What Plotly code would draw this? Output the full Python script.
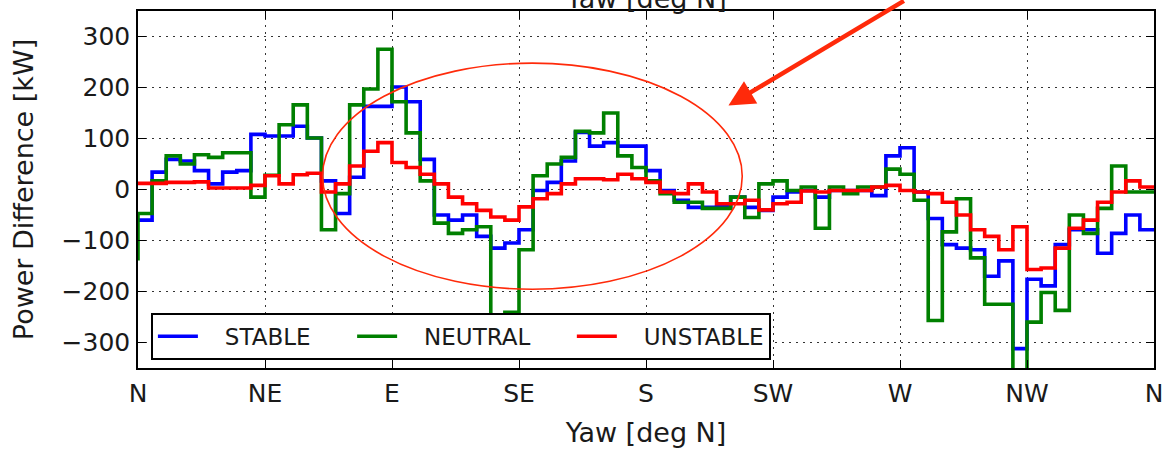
import numpy as np
import plotly.graph_objects as go

# Yaw bin edges: 5-degree bins from N (0) round to N (360)
bin_width = 5
yaw_edges = np.arange(0, 360 + bin_width, bin_width)

# Power difference per bin [kW]; first entry is the value at the 0-degree edge
stable = [
    -60,
    -60, 34, 59, 56, 37, 11, 34, 37, 108,
    105, 105, 124, 101, 17, -47, 24, 163, 163,
    201, 172, 59, -50, -60, -50, -92, -115, -105,
    -79, -2, 14, 56, 112, 85, 92, 85, 85,
    37, -2, -21, -35, -35, -34, -15, -35, -41,
    -15, -5, -2, -15, -2, -2, -2, -12, 66,
    82, -5, -57, -108, -115, -118, -170, -140, -312,
    -176, -189, -108, -79, -79, -125, -86, -50, -79,
]
neutral = [
    -139,
    -47, 17, 66, 50, 68, 63, 72, 72, -15,
    28, 127, 166, 101, -79, -8, 166, 197, 275,
    172, 111, 17, -66, -86, -79, -73, -300, -241,
    -118, 27, 50, 63, 114, 111, 150, 66, 43,
    17, -8, -25, -25, -37, -37, -15, -55, 11,
    17, -2, 5, -76, 5, -8, 5, 5, 40,
    30, -21, -257, -83, -18, -134, -225, -225, -400,
    -260, -202, -237, -50, -86, -37, 46, -5, -5,
]
unstable = [
    12,
    12, 12, 14, 14, 15, 3, 3, 3, 8,
    27, 11, 29, 32, -5, 11, 46, 75, 92,
    53, 43, 30, 11, -15, -28, -41, -54, -60,
    -34, -18, -8, 11, 21, 21, 19, 30, 21,
    14, -5, -8, 11, -5, -28, -28, -21, -40,
    -28, -25, -3, -5, -2, -2, -2, 5, 8,
    -2, -5, -8, -25, -50, -79, -92, -118, -73,
    -157, -154, -115, -76, -60, -25, -5, 17, 5,
]

series_names = ["STABLE", "NEUTRAL", "UNSTABLE"]
series_colors = ["#0000ff", "#008000", "#ff0000"]

x_tick_vals = [0, 45, 90, 135, 180, 225, 270, 315, 360]
x_tick_text = ["N", "NE", "E", "SE", "S", "SW", "W", "NW", "N"]
y_tick_vals = [-300, -200, -100, 0, 100, 200, 300]
y_tick_text = ["\u2212300", "\u2212200", "\u2212100", "0", "100", "200", "300"]

FONT = "DejaVu Sans"
TEXT = "#1a1a1a"
lead = "\u00a0" * 3  # space between legend line and its label
gap = "\u00a0" * 5   # column spacing between legend entries

fig = go.Figure()
for i, (name, vals, col) in enumerate(zip(series_names, [stable, neutral, unstable], series_colors)):
    label = lead + name + (gap if i < len(series_names) - 1 else "")
    fig.add_trace(go.Scatter(
        x=yaw_edges, y=vals, mode="lines", name=label,
        line=dict(color=col, width=3.6, shape="vh"),
    ))

axis_common = dict(
    showline=True, linecolor="black", linewidth=1.5, mirror="ticks",
    ticks="inside", ticklen=8, tickwidth=1.2, tickcolor="black",
    showgrid=True, gridcolor="#333333", gridwidth=1, griddash="2px,5px",
    zeroline=False, tickfont=dict(family=FONT, size=25, color=TEXT),
)

fig.update_xaxes(
    range=[0, 360], tickvals=x_tick_vals, ticktext=x_tick_text,
    title=dict(text="Yaw [deg N]", font=dict(family=FONT, size=27, color=TEXT), standoff=16),
    ticklabelstandoff=2,
    **axis_common,
)
fig.update_yaxes(
    range=[-350, 350], tickvals=y_tick_vals, ticktext=y_tick_text,
    title=dict(text="Power Difference [kW]", font=dict(family=FONT, size=27, color=TEXT), standoff=20),
    ticklabelstandoff=1,
    **axis_common,
)

# Highlight ring round the E-SE-S region
ring_color = "#ff2a0a"
fig.add_shape(type="circle", xref="x", yref="y", x0=65.4, x1=214.1, y0=-195.5, y1=247.7,
              line=dict(color=ring_color, width=1.6), layer="above")

# Pointer arrow coming in from the upper right
fig.add_annotation(x=209.2, y=164.6, xref="x", yref="y", text="", showarrow=True,
                   ax=177, ay=-112, arrowhead=2, arrowsize=1.15, arrowwidth=4.5,
                   arrowcolor=ring_color, standoff=0)

# Axis label of the panel above, cut by the top edge
fig.add_annotation(x=0.5, y=1.034, xref="paper", yref="paper", text="Yaw [deg N]",
                   showarrow=False, yanchor="middle", xanchor="center",
                   font=dict(family=FONT, size=27, color=TEXT))

fig.update_layout(
    width=1172, height=452,
    margin=dict(l=138, r=10, t=9, b=82),
    paper_bgcolor="white", plot_bgcolor="white",
    showlegend=True,
    legend=dict(orientation="h", x=0.0127, y=0.023, xanchor="left", yanchor="bottom",
                bgcolor="white", bordercolor="black", borderwidth=2,
                itemwidth=40,
                font=dict(family=FONT, size=23, color=TEXT)),
)

fig.write_html("out.html")
